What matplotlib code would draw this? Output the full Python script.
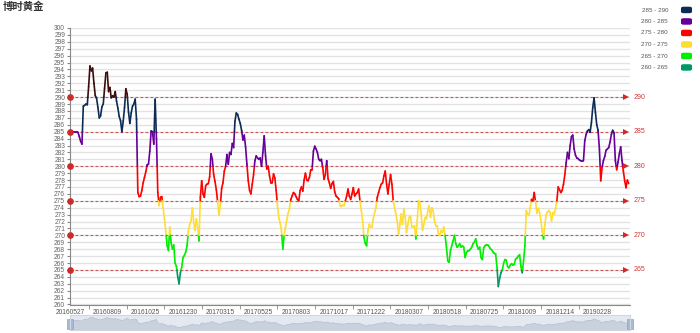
import numpy as np
import matplotlib
matplotlib.use("Agg")
import matplotlib.pyplot as plt
from matplotlib.collections import LineCollection
from matplotlib.patches import FancyBboxPatch, Rectangle

plt.rcParams['font.family'] = ['Liberation Sans', 'Noto Sans CJK SC', 'DejaVu Sans']

# 价格序列（从图中读出，等间距采样）
close = [
    285.0, 285.0, 285.0, 285.0, 285.0, 285.0, 284.9, 284.3, 283.6, 283.2,
    288.7, 288.8, 289.0, 288.9, 291.5, 294.5, 293.8, 294.2, 292.0, 290.2,
    289.8, 288.5, 287.0, 287.3, 288.6, 289.0, 291.3, 293.5, 293.6, 290.8,
    291.4, 289.9, 290.2, 290.0, 290.8, 289.4, 288.4, 287.2, 286.6, 285.0,
    286.5, 288.5, 291.2, 290.4, 287.8, 286.2, 287.7, 288.7, 289.0, 289.7,
    286.8, 276.2, 275.6, 275.7, 276.5, 277.6, 278.4, 279.2, 280.2, 280.3,
    282.2, 285.1, 285.0, 283.2, 289.7, 284.0, 276.2,
    274.3, 275.5, 275.6, 274.0, 272.4, 270.6, 268.5, 267.8, 271.2, 269.0,
    268.0, 268.6, 266.0, 265.5, 264.0, 263.0, 264.6, 265.4, 266.8, 267.1,
    267.6, 268.5, 270.6, 271.6, 272.1, 274.0, 271.9, 270.7, 272.4, 271.2,
    269.2, 275.5, 277.9, 276.0, 275.5, 277.2, 277.4, 277.5, 278.5, 281.8,
    281.0, 278.8, 277.8, 276.6, 274.8, 272.9, 274.3, 276.8, 277.6, 279.3,
    280.0, 281.7, 280.3, 282.0, 281.7, 283.3, 282.7, 286.5, 287.7, 287.5,
    286.8, 286.2, 285.2, 283.8, 284.5, 282.8, 280.3, 277.9, 276.5,
    276.0, 277.4, 278.8, 280.8, 281.5, 281.2, 281.0, 281.2, 280.0, 282.0,
    284.4, 281.5, 279.6, 280.0, 278.6, 277.6, 277.6, 278.9, 278.3, 276.5,
    274.3, 272.5, 271.8, 270.6, 268.0, 270.0, 271.2, 272.3, 273.2, 273.9,
    275.2, 275.7, 276.2, 276.0, 275.6, 275.2, 275.0, 276.5, 277.0, 276.4,
    278.0, 279.0, 278.0, 277.9, 278.4, 279.5, 279.5, 282.2, 282.9, 282.5,
    282.0, 281.0, 280.8, 281.0, 279.8, 278.1, 278.8, 280.8, 278.2, 277.6,
    276.8, 277.5, 277.8, 276.3, 275.7, 275.5, 275.3, 274.3, 274.2, 274.4,
    274.3, 275.0, 275.7, 276.7, 275.7, 275.2, 276.0, 276.9, 275.7, 276.0,
    276.2, 276.7, 275.0, 273.6, 272.1, 269.7, 268.8, 268.5, 270.7, 271.6,
    271.2, 271.2, 272.4, 273.3, 274.0, 275.5, 276.2, 276.9, 277.4, 277.6,
    278.6, 279.3, 277.4, 276.0, 277.4, 278.8, 277.4, 275.0, 274.0, 273.1,
    272.1, 270.2, 271.6, 273.1, 271.6, 273.8, 272.6, 270.4, 271.6, 272.6,
    272.8, 271.2, 271.2, 271.4, 269.5, 272.1, 275.0, 274.8, 273.1, 270.7,
    271.6, 272.6, 272.4, 273.6, 274.3, 272.6, 274.0, 273.6, 272.1, 271.4,
    271.4, 270.2, 270.0, 270.7, 270.4, 271.2, 270.0, 268.3, 266.3, 266.1,
    267.8, 268.5, 269.2, 270.0, 268.8, 268.3, 268.5, 268.8, 268.3, 268.5,
    268.3, 266.8, 267.5, 267.8, 267.8, 268.0, 268.3, 268.8, 269.0, 269.5,
    268.5, 268.0, 268.3, 266.8, 266.5, 268.2, 268.5, 268.6, 268.6, 268.4,
    268.1, 267.9, 267.6, 267.4, 267.3, 265.4, 262.6, 263.8, 264.6, 265.0,
    266.0, 266.5, 266.4, 265.5, 265.3, 265.7, 265.9, 265.7, 265.8, 266.6,
    266.7, 267.0, 267.2, 265.5, 264.6, 266.4, 268.5, 273.6, 273.1, 272.9,
    274.0, 275.2, 275.0, 276.2, 274.8, 273.2, 273.9, 273.3, 272.2, 270.6,
    269.5, 271.6, 273.0, 273.4, 273.6, 273.3, 272.1, 273.3, 273.1, 273.8,
    275.0, 277.0, 276.6, 276.2, 276.5, 277.4, 278.8, 280.5, 282.0, 281.1,
    283.0, 284.3, 284.5, 282.5, 281.6, 281.2, 281.1, 280.9, 280.8, 280.8,
    280.8, 283.7, 284.6, 285.1, 285.3, 284.9, 286.3, 288.5, 289.9, 287.8,
    286.0, 285.2, 282.5, 277.9, 279.8, 280.8, 281.4, 282.3, 282.5, 282.7,
    283.5, 284.6, 285.2, 284.8, 280.8, 279.5, 280.6, 281.8, 282.8, 280.8,
    279.3, 277.9, 276.9, 278.0, 277.5,
]

date_labels = ['20160527', '20160809', '20161025', '20161230', '20170315',
               '20170525', '20170803', '20171017', '20171222', '20180307',
               '20180518', '20180725', '20181009', '20181214', '20190228']
label_every = 28.33  # samples between two date labels

band_edges = [260, 265, 270, 275, 280, 285, 290]
band_colors = ['#009966', '#00ee00', '#ffde33', '#ff0000', '#660099', '#0d2c55']
above_color = '#3d0c0c'
band_names = ['285 - 290', '280 - 285', '275 - 280', '270 - 275', '265 - 270', '260 - 265']
mark_levels = [265, 270, 275, 280, 285, 290]


def color_for(v):
    # 区间为 (lo, hi]
    if v > band_edges[-1]:
        return above_color
    for lo, hi, c in zip(band_edges[:-1], band_edges[1:], band_colors):
        if lo < v <= hi:
            return c
    return band_colors[0]


def split_by_levels(x, y):
    segs, cols = [], []
    for i in range(len(x) - 1):
        x0, y0, x1, y1 = x[i], y[i], x[i + 1], y[i + 1]
        lv = [l for l in band_edges if min(y0, y1) < l < max(y0, y1)]
        lv.sort(reverse=(y1 < y0))
        pts = [(x0, y0)]
        for l in lv:
            t = (l - y0) / (y1 - y0)
            pts.append((x0 + t * (x1 - x0), l))
        pts.append((x1, y1))
        for a, b in zip(pts[:-1], pts[1:]):
            segs.append([a, b])
            cols.append(color_for((a[1] + b[1]) / 2))
    return segs, cols


x = np.arange(len(close))
y = np.array(close)

fig = plt.figure(figsize=(7, 3.33), dpi=100)
ax = fig.add_axes([70 / 700, 1 - 304.5 / 333, 560 / 700, 276.5 / 333])

# 网格
for v in range(260, 301):
    ax.axhline(v, color='#e3e3e3', lw=1.0, zorder=0)

segs, cols = split_by_levels(x, y)
lc = LineCollection(segs, colors=cols, linewidths=1.2, capstyle='round', joinstyle='round', zorder=3)
ax.add_collection(lc)

xend = len(close) - 1
ax.set_xlim(0, xend + 1)
ax.set_ylim(260, 300)

# 标线
for v in mark_levels:
    ax.plot([0, xend - 3], [v, v], color='#cc3b3b', lw=0.8, dashes=(2.5, 2), alpha=0.85, zorder=2)
    ax.plot(0, v, 'o', color='#cc2a2a', ms=3.8, clip_on=False, zorder=4)
    ax.plot(xend - 2, v, marker='>', color='#cc2a2a', ms=5, clip_on=False, zorder=4, mew=0)
    ax.text(xend + 4, v, str(v), color='#cc3b3b', fontsize=5, va='center', ha='left')

ax.set_yticks(range(260, 301))
ax.set_yticklabels([str(v) for v in range(260, 301)], fontsize=4.8, color='#666666')
label_pos = np.arange(len(date_labels)) * label_every
ax.set_xticks(label_pos)
ax.set_xticklabels(date_labels, fontsize=4.8, color='#555555')
ax.set_xticks(label_pos[:-1] + label_every / 2, minor=True)
ax.tick_params(axis='x', which='major', length=0, pad=3)
ax.tick_params(axis='x', which='minor', length=3, color='#888888')
ax.tick_params(axis='y', length=2, pad=1.5, color='#888888')
for s in ['top', 'right']:
    ax.spines[s].set_visible(False)
ax.spines['left'].set_color('#888888')
ax.spines['bottom'].set_color('#888888')

# 标题
fig.text(3 / 700, 1 - 7 / 333, '博时黄金', fontsize=7.5, fontweight='bold', color='#333333',
         va='center', ha='left', family=['Noto Sans CJK SC', 'DejaVu Sans'])

# 图例
for i, (name, c) in enumerate(zip(band_names, band_colors[::-1])):
    yc = 1 - (10 + 11.5 * i) / 333
    fig.text(668 / 700, yc, name, fontsize=4.5, color='#555555', ha='right', va='center')
    fig.patches.append(FancyBboxPatch((681 / 700, yc - 3.2 / 333), 11 / 700, 6.5 / 333,
                                      boxstyle='round,pad=0,rounding_size=0.004',
                                      transform=fig.transFigure, facecolor=c, edgecolor='none'))

# 底部缩放条
sax = fig.add_axes([70 / 700, 1 - 330 / 333, 560 / 700, 15 / 333])
sax.set_facecolor('#e4e9f1')
sax.fill_between(x, 0, y - y.min() + 8, color='#c9d1dd', lw=0.6, edgecolor='#b9c3d2')
sax.set_xlim(0, xend + 1)
sax.set_ylim(0, (y.max() - y.min() + 8) * 1.15)
sax.set_xticks([])
sax.set_yticks([])
for s in sax.spines.values():
    s.set_color('#d0d7e2')
for hx in [0, xend + 1]:
    sax.add_patch(Rectangle((hx - 2, 4), 4, 30, facecolor='#a9b9cf', edgecolor='#8fa2bd', lw=0.5, clip_on=False))

fig.savefig('out.png', dpi=100)
